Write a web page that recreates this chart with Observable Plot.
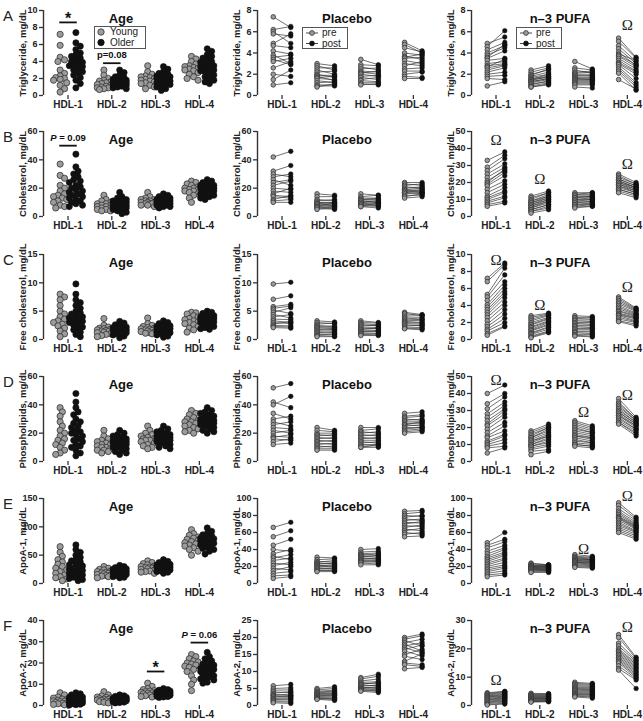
<!DOCTYPE html>
<html><head><meta charset="utf-8">
<script src="https://cdn.jsdelivr.net/npm/d3@7"></script>
<script src="https://cdn.jsdelivr.net/npm/@observablehq/plot@0.6"></script>
<style>
body{margin:0;background:#fff;font-family:"Liberation Sans",Arial,sans-serif;}
#root{position:relative;width:643px;height:721px;overflow:hidden;}
.panel{position:absolute;}
.letter{position:absolute;font-size:15px;color:#222;line-height:1;}
.legend{position:absolute;border:1px solid #555;box-sizing:border-box;background:#fff;}
.legend svg{display:block;overflow:visible;}
</style></head><body><div id="root"></div><script>
// ---------- categories, labels, ticks ----------
const groups = ["HDL-1","HDL-2","HDL-3","HDL-4"];
const rowLetters = ["A","B","C","D","E","F"];
const rowLabels = ["Triglyceride, mg/dL","Cholesterol, mg/dL","Free cholesterol, mg/dL","Phospholipids, mg/dL","ApoA-1, mg/dL","ApoA-2, mg/dL"];
const panelTitles = ["Age","Placebo","n\u20133 PUFA"];
const ageLegend = ["Young","Older"];
const trialLegend = ["pre","post"];
const yMax = [[10,8,8],[60,60,50],[15,15,10],[60,60,50],[150,100,100],[40,25,30]];
const yStep = [[2,2,2],[20,20,10],[5,5,2],[20,20,10],[50,20,20],[10,5,10]];
const sigMarks = [
  {row:0, group:0, y:8.6, text:"*"},
  {row:0, group:1, y:3.8, text:"p=0.08"},
  {row:1, group:0, y:50, text:"P = 0.09"},
  {row:5, group:2, y:16, text:"*"},
  {row:5, group:3, y:29.6, text:"P = 0.06"}
];
const omegaMarks = [
  {row:0, group:3, y:6.6},
  {row:1, group:0, y:45}, {row:1, group:1, y:22}, {row:1, group:3, y:31},
  {row:2, group:0, y:9.3}, {row:2, group:1, y:4.0}, {row:2, group:3, y:6.1},
  {row:3, group:0, y:48}, {row:3, group:2, y:29}, {row:3, group:3, y:39},
  {row:4, group:2, y:40}, {row:4, group:3, y:103},
  {row:5, group:0, y:8.8}, {row:5, group:3, y:27.5}
];

// ---------- A: Triglyceride ----------
const tgYoung = ["7.2 5.9 4.5 4.2 4.0 3.0 2.6 2.3 2.1 2.0 1.9 1.8 1.5 1.2 0.8 0.4",
 "3.0 2.4 2.0 1.8 1.7 1.6 1.5 1.4 1.3 1.2 1.1 1.0 0.9 0.9 0.8 0.7",
 "3.5 2.8 2.5 2.3 2.2 2.1 2.0 1.9 1.8 1.7 1.6 1.5 1.4 1.2 1.0 0.8",
 "4.6 4.3 4.0 3.7 3.5 3.4 3.3 3.2 3.1 3.0 2.9 2.7 2.5 2.2 2.0 1.8"];
const tgOlder = ["7.4 6.2 5.8 5.4 5.0 4.8 4.6 4.4 4.2 4.0 3.9 3.8 3.6 3.5 3.4 3.2 3.0 2.8 2.6 2.4 2.1 1.8 1.4 0.9",
 "3.0 2.7 2.4 2.2 2.1 2.0 1.9 1.8 1.8 1.7 1.7 1.6 1.6 1.5 1.5 1.4 1.4 1.3 1.3 1.2 1.1 1.0 0.9 0.8",
 "3.4 3.1 2.8 2.6 2.5 2.4 2.3 2.2 2.1 2.0 2.0 1.9 1.9 1.8 1.8 1.7 1.6 1.5 1.4 1.3 1.2 1.0 0.8 0.6",
 "5.5 5.2 4.8 4.6 4.4 4.2 4.0 3.9 3.8 3.6 3.5 3.4 3.3 3.2 3.0 2.9 2.8 2.6 2.4 2.2 2.0 1.8 1.6 1.4"];
const tgPlaPre = ["7.4 6.2 6.0 5.8 4.9 4.7 4.2 3.8 3.6 3.4 3.2 2.6 2.0 1.5 1.0",
 "3.0 2.8 2.6 2.4 2.2 2.0 1.9 1.8 1.7 1.6 1.4 1.2 1.0 0.9 0.8",
 "3.4 2.9 2.7 2.5 2.3 2.2 2.1 2.0 1.8 1.7 1.5 1.4 1.2 1.1 1.0",
 "5.0 4.8 4.5 4.0 3.7 3.6 3.5 3.3 3.0 2.8 2.5 2.3 2.0 1.8 1.6"];
const tgPlaPost = ["6.4 6.5 4.9 5.6 5.8 4.5 3.9 3.0 3.8 2.9 3.5 3.2 1.8 2.4 1.2",
 "2.8 2.4 2.6 2.0 2.3 1.7 1.9 1.4 1.8 1.5 1.2 1.3 1.0 0.9 1.1",
 "2.9 2.8 2.4 2.6 2.2 2.0 2.3 1.8 1.9 1.5 1.7 1.3 1.2 1.0 1.1",
 "4.2 4.0 4.1 3.8 3.4 3.9 3.6 3.0 2.8 3.2 2.6 2.3 2.2 1.7 1.6"];
const tgPufaPre = ["4.9 4.6 4.3 4.0 3.8 3.6 3.5 3.3 3.0 2.8 2.7 2.6 2.4 2.2 2.0 1.8 1.6 0.9",
 "2.4 2.2 2.0 1.9 1.8 1.7 1.6 1.5 1.5 1.4 1.3 1.3 1.2 1.1 1.0 0.9 0.8 0.8",
 "3.2 2.6 2.4 2.2 2.1 2.0 1.9 1.8 1.7 1.6 1.6 1.5 1.4 1.3 1.2 1.1 1.0 0.8",
 "5.4 5.1 4.7 4.4 4.1 3.9 3.8 3.7 3.5 3.3 3.1 3.0 2.9 2.7 2.5 2.3 2.1 1.5"];
const tgPufaPost = ["5.5 6.1 5.0 4.7 4.5 4.8 4.2 3.5 3.2 3.0 3.4 2.9 2.8 2.6 2.2 1.9 1.5 1.3",
 "2.8 2.6 2.4 2.5 2.2 2.0 1.8 2.0 1.7 1.8 1.6 1.6 1.5 1.3 1.4 1.2 1.1 1.0",
 "2.5 2.4 2.1 2.3 2.2 2.0 1.8 1.9 1.6 1.7 1.5 1.5 1.4 1.3 1.2 1.1 1.0 0.7",
 "3.6 3.5 3.2 3.0 2.8 3.3 2.9 2.7 2.5 2.3 2.2 2.0 1.6 1.2 1.0 0.8 0.5 0.6"];

// ---------- B: Cholesterol ----------
const chYoung = ["37 29 27 22 20 18 16 15 14 13 12 11 10 8 7 6",
 "15 12 11 10 9 9 8 8 7 7 6 6 5 5 4 4",
 "17 14 13 12 12 11 11 10 10 10 9 9 9 8 8 7",
 "25 24 23 22 21 20 20 19 19 18 18 17 16 15 13 10"];
const chOlder = ["44 35 32 30 28 26 25 24 22 21 20 19 18 17 16 15 14 13 12 11 10 9 8 7",
 "17 14 13 12 11 11 10 10 9 9 9 8 8 8 7 7 7 6 6 5 5 4 3 2",
 "16 15 14 13 13 12 12 12 11 11 11 10 10 10 10 9 9 9 8 8 8 7 7 6",
 "26 25 24 23 22 22 21 21 20 20 19 19 18 18 18 17 17 16 16 15 15 14 13 12"];
const chPlaPre = ["42 32 30 28 26 24 22 20 18 16 15 14 12 11 10",
 "16 14 12 11 10 10 9 9 8 8 7 7 6 6 5",
 "16 14 13 12 12 11 11 10 10 9 9 8 8 7 7",
 "24 23 22 21 20 19 19 18 18 17 17 16 15 14 13"];
const chPlaPost = ["46 36 28 30 22 26 25 19 17 20 14 13 15 12 10",
 "15 14 11 12 10 9 10 8 9 7 8 6 7 5 6",
 "15 15 13 12 13 11 10 11 9 10 8 9 7 8 6",
 "24 22 23 20 21 20 18 19 17 18 16 17 15 16 14"];
const chPufaPre = ["33 29 27 25 23 21 20 19 18 16 14 12 11 10 9 8 7 6",
 "12 11 10 9 9 8 8 7 7 6 6 5 5 4 4 3 3 2",
 "14 13 13 12 12 11 11 10 10 9 9 8 8 7 7 6 6 5",
 "25 24 23 22 22 21 21 20 20 19 19 18 18 17 16 16 15 14"];
const chPufaPost = ["38 36 34 31 29 27 28 26 24 21 19 17 15 14 12 11 9 8",
 "15 14 14 13 12 12 11 11 10 10 9 9 8 7 7 6 5 4",
 "14 14 13 12 12 12 11 11 10 10 9 9 8 8 7 7 6 6",
 "20 19 19 18 18 17 17 17 16 16 15 15 14 14 13 13 12 11"];

// ---------- C: Free cholesterol ----------
const fcYoung = ["8.0 7.5 7.0 6.0 5.0 4.5 4.0 3.6 3.3 3.0 2.7 2.4 2.0 1.5 1.0 0.5",
 "3.7 2.5 2.2 2.0 1.9 1.8 1.7 1.6 1.5 1.4 1.3 1.2 1.0 0.9 0.7 0.5",
 "3.8 2.8 2.5 2.3 2.1 2.0 1.9 1.8 1.7 1.6 1.5 1.4 1.3 1.2 1.1 1.0",
 "4.8 4.7 4.5 4.2 4.0 3.7 3.5 3.3 3.1 3.0 2.8 2.6 2.3 2.0 1.7 1.3"];
const fcOlder = ["9.8 8.0 7.0 6.5 6.0 5.5 5.0 4.7 4.5 4.2 4.0 3.8 3.6 3.4 3.2 3.0 2.8 2.5 2.2 2.0 1.7 1.3 0.9 0.5",
 "3.2 2.9 2.6 2.4 2.2 2.1 2.0 1.9 1.9 1.8 1.8 1.7 1.6 1.6 1.5 1.5 1.4 1.3 1.2 1.1 1.0 0.8 0.6 0.3",
 "3.3 3.0 2.8 2.6 2.4 2.3 2.2 2.1 2.0 2.0 1.9 1.9 1.8 1.7 1.6 1.5 1.4 1.3 1.2 1.1 1.0 0.8 0.6 0.4",
 "5.0 4.8 4.6 4.4 4.2 4.0 3.9 3.8 3.7 3.6 3.5 3.4 3.3 3.2 3.1 3.0 2.9 2.8 2.6 2.5 2.3 2.1 1.9 1.8"];
const fcPlaPre = ["9.8 7.1 5.8 5.5 5.2 4.8 4.4 4.0 3.6 3.3 3.0 2.7 2.5 2.3 2.1",
 "3.3 3.0 2.7 2.5 2.3 2.1 2.0 1.8 1.6 1.4 1.2 1.0 0.8 0.7 0.5",
 "3.3 3.0 2.8 2.6 2.4 2.2 2.0 1.8 1.7 1.5 1.4 1.2 1.0 0.9 0.7",
 "4.8 4.6 4.3 4.0 3.8 3.6 3.4 3.2 3.0 2.8 2.6 2.4 2.2 2.0 1.9"];
const fcPlaPost = ["10.1 7.7 6.2 5.9 4.6 5.6 3.8 4.4 3.5 3.0 2.8 3.2 2.4 2.2 2.0",
 "3.1 2.8 2.9 2.2 2.4 1.9 2.1 1.6 1.8 1.2 1.4 0.9 1.0 0.6 0.5",
 "3.0 2.9 2.6 2.4 2.5 2.1 1.9 2.0 1.6 1.4 1.5 1.1 1.0 0.8 0.7",
 "4.4 4.2 4.3 3.9 3.6 3.5 3.3 3.0 2.9 2.7 2.4 2.5 2.1 1.9 1.7"];
const fcPufaPre = ["7.2 6.8 5.3 5.0 4.6 4.1 3.8 3.5 3.2 2.9 2.6 2.2 1.8 1.5 1.2 1.0 0.7 0.5",
 "2.8 2.6 2.4 2.2 2.0 1.8 1.7 1.5 1.4 1.2 1.1 1.0 0.8 0.7 0.6 0.4 0.3 0.2",
 "2.8 2.6 2.5 2.3 2.2 2.0 1.9 1.7 1.6 1.5 1.3 1.2 1.0 0.9 0.8 0.6 0.5 0.4",
 "5.0 4.8 4.6 4.4 4.2 4.0 3.8 3.6 3.4 3.3 3.1 3.0 2.9 2.8 2.6 2.4 2.2 2.1"];
const fcPufaPost = ["9.0 8.8 8.4 7.6 6.8 6.4 6.0 5.6 5.3 4.9 4.4 4.0 3.5 3.0 2.5 2.0 1.6 1.5",
 "3.1 3.0 2.9 2.8 2.6 2.5 2.4 2.2 2.1 2.0 1.8 1.7 1.5 1.4 1.2 1.0 0.9 0.8",
 "2.7 2.6 2.4 2.3 2.1 2.0 1.8 1.7 1.6 1.4 1.3 1.2 1.0 0.9 0.7 0.6 0.4 0.3",
 "3.7 3.6 3.5 3.4 3.3 3.1 3.0 2.9 2.8 2.7 2.6 2.5 2.4 2.2 2.1 2.0 1.8 1.6"];

// ---------- D: Phospholipids ----------
const plYoung = ["38 35 32 28 25 22 20 18 16 15 13 12 10 8 6 5",
 "22 18 16 15 14 13 12 12 11 10 10 9 8 8 7 6",
 "25 22 20 19 18 17 16 16 15 15 14 13 12 11 10 9",
 "36 34 33 31 30 29 28 28 27 26 25 24 23 22 21 20"];
const plOlder = ["48 42 38 35 33 30 28 27 25 24 22 21 20 19 18 16 15 14 12 11 10 8 6 4",
 "22 20 19 18 17 16 16 15 15 14 14 14 13 13 12 12 11 10 10 9 8 7 6 5",
 "25 23 22 21 20 19 19 18 18 17 17 17 16 16 16 15 15 14 14 13 12 11 10 9",
 "38 36 35 34 33 32 31 30 30 29 29 29 28 28 27 27 26 26 25 24 23 22 21 20"];
const plPlaPre = ["52 42 40 34 30 28 26 24 22 20 18 17 16 14 12",
 "24 22 20 19 18 17 16 15 14 13 12 11 10 9 8",
 "24 22 21 20 19 18 17 16 15 14 13 12 11 10 10",
 "34 32 31 30 29 28 27 26 26 25 24 23 22 21 20"];
const plPlaPost = ["55 38 46 30 32 25 28 23 20 22 17 19 15 16 13",
 "22 21 20 18 19 16 17 14 15 12 13 10 11 9 8",
 "24 23 20 21 18 19 16 17 15 13 14 12 11 12 10",
 "35 33 32 29 30 28 27 28 25 26 24 24 23 22 21"];
const plPufaPre = ["40 34 31 28 26 24 22 21 19 17 15 14 12 11 10 9 8 5",
 "18 17 16 15 14 14 13 12 12 11 10 10 9 9 8 7 6 4",
 "24 23 22 21 20 19 18 17 16 15 15 14 13 12 11 10 10 9",
 "37 35 34 33 32 31 30 29 29 28 27 27 26 25 24 23 23 22"];
const plPufaPost = ["45 40 38 35 33 31 30 28 26 23 21 18 16 15 13 11 9 8",
 "22 21 20 20 19 18 17 16 15 15 14 13 12 11 10 9 7 6",
 "21 20 19 18 17 17 16 15 14 14 13 12 11 11 10 9 9 8",
 "26 25 25 24 24 23 23 22 22 21 21 20 19 19 18 17 16 15"];

// ---------- E: ApoA-1 ----------
const a1Young = ["65 55 48 42 38 34 30 27 24 21 18 15 12 10 8 5",
 "30 27 25 24 22 21 20 19 18 17 16 15 14 13 12 10",
 "40 37 35 33 31 30 29 28 27 26 25 24 22 21 20 18",
 "95 88 85 82 80 78 76 74 72 70 68 66 63 60 57 50"];
const a1Older = ["68 60 55 50 46 42 40 38 35 33 31 29 27 25 23 21 19 17 15 13 11 9 7 5",
 "32 30 28 27 26 25 24 23 22 22 21 21 20 20 19 19 18 17 16 15 14 12 11 10",
 "42 39 37 35 34 33 32 31 30 30 29 29 28 28 27 27 26 25 24 23 22 21 20 18",
 "98 92 88 86 84 82 80 79 78 76 75 74 73 72 71 70 69 68 66 64 62 60 57 52"];
const a1PlaPre = ["66 55 45 40 35 32 30 27 24 21 18 15 12 9 6",
 "31 28 26 25 24 23 22 21 20 19 18 17 16 15 14",
 "40 37 35 34 33 32 31 30 29 28 27 26 25 24 22",
 "85 82 80 78 76 74 72 70 68 66 64 62 60 58 55"];
const a1PlaPost = ["72 62 52 38 40 28 34 30 22 25 16 20 14 10 8",
 "30 29 25 27 23 24 20 22 19 21 17 18 15 16 14",
 "41 38 36 33 35 31 33 29 30 27 28 25 26 23 22",
 "86 84 79 80 74 76 71 73 67 69 62 65 58 60 56"];
const a1PufaPre = ["48 45 42 38 35 32 30 28 26 24 22 20 18 16 14 12 10 8",
 "24 23 22 21 21 20 20 19 19 18 18 17 17 16 16 15 14 13",
 "34 32 31 30 29 29 28 27 27 26 25 25 24 23 22 21 20 19",
 "95 92 88 85 83 81 79 78 77 76 74 72 70 68 66 64 62 60"];
const a1PufaPost = ["60 52 49 45 42 40 37 35 33 30 28 25 22 20 18 15 12 10",
 "22 22 21 21 20 20 19 19 18 18 17 17 16 16 15 15 14 13",
 "32 31 30 29 28 28 27 26 26 25 24 24 23 22 21 20 19 18",
 "78 76 74 72 70 69 68 67 66 65 64 62 61 60 58 56 54 52"];

// ---------- F: ApoA-2 ----------
const a2Young = ["6.0 5.0 4.0 3.5 3.0 2.8 2.5 2.2 2.0 1.8 1.5 1.2 1.0 0.8 0.5 0.3",
 "6.5 5.0 4.5 4.0 3.8 3.5 3.2 3.0 2.8 2.6 2.4 2.2 2.0 1.8 1.5 1.2",
 "10.5 9.0 8.0 7.5 7.0 6.8 6.5 6.2 6.0 5.8 5.5 5.2 5.0 4.6 4.2 4.0",
 "24 23 22 21 20.5 20 19.5 19 18.5 18 17 16 14 12 10 7"];
const a2Older = ["6.0 5.5 5.0 4.5 4.0 3.8 3.5 3.2 3.0 2.8 2.6 2.5 2.4 2.2 2.0 1.8 1.6 1.4 1.2 1.0 0.8 0.6 0.4 0.2",
 "5.0 4.6 4.3 4.0 3.8 3.6 3.4 3.2 3.1 3.0 3.0 2.9 2.8 2.7 2.6 2.5 2.4 2.3 2.2 2.0 1.8 1.6 1.4 1.2",
 "8.0 7.5 7.2 7.0 6.8 6.6 6.4 6.2 6.0 6.0 5.9 5.8 5.7 5.6 5.5 5.4 5.2 5.0 4.8 4.6 4.4 4.2 4.0 3.8",
 "25 23 22 21 20 19.5 19 18.5 18 17.5 17 16.8 16.5 16 15.5 15 14.5 14 13.5 13 12.5 12 11 10.5"];
const a2PlaPre = ["5.8 5.0 4.5 4.0 3.6 3.2 3.0 2.8 2.5 2.2 2.0 1.7 1.4 1.1 0.8",
 "5.0 4.6 4.2 4.0 3.8 3.5 3.3 3.1 2.9 2.7 2.5 2.3 2.1 2.0 1.8",
 "8.2 7.8 7.2 6.8 6.5 6.2 6.0 5.7 5.4 5.2 5.0 4.8 4.6 4.4 4.2",
 "20 19.5 19 18.5 18 17.5 17 16.5 16 15 14.5 13 12.5 12 10.8"];
const a2PlaPost = ["6.2 5.2 4.6 3.8 4.1 3.0 3.4 2.6 2.9 2.3 1.8 2.0 1.3 1.0 0.6",
 "5.5 5.0 4.5 4.2 3.9 3.6 3.4 3.2 3.0 2.8 2.5 2.2 2.0 1.8 1.5",
 "9.2 8.6 7.8 7.0 6.4 6.8 5.8 6.0 5.2 5.5 4.6 5.0 4.3 4.2 3.8",
 "21 20.5 17.5 19.5 16 18.5 15.5 17.8 14.6 16.5 13.5 15.2 12 11.5 11.2"];
const a2PufaPre = ["4.5 4.2 4.0 3.7 3.4 3.2 3.0 2.8 2.5 2.2 2.0 1.8 1.5 1.2 1.0 0.7 0.4 0.2",
 "4.3 4.0 3.8 3.6 3.4 3.2 3.0 2.8 2.6 2.4 2.3 2.2 2.0 1.8 1.6 1.5 1.4 1.2",
 "8.2 7.8 7.4 7.0 6.6 6.3 6.0 5.7 5.4 5.1 4.8 4.5 4.2 4.0 3.8 3.5 3.3 3.0",
 "25 24 22 21 20 19.5 19 18.5 18 17.5 17 16.5 16 15.5 15 14 13 12.5"];
const a2PufaPost = ["5.0 4.9 4.6 4.3 4.0 3.8 3.5 3.3 3.0 2.8 2.6 2.3 2.0 1.8 1.5 1.2 0.8 0.5",
 "4.2 4.0 3.8 3.6 3.4 3.2 3.0 2.9 2.7 2.5 2.4 2.3 2.1 1.9 1.7 1.6 1.5 1.3",
 "7.8 7.5 7.2 6.8 6.5 6.2 5.9 5.6 5.3 5.0 4.7 4.4 4.1 3.9 3.6 3.3 3.0 2.6",
 "17 16.5 16 15.5 15 14.5 14 13.5 13 12.5 12 11.5 11 10.5 10 9.5 9 6"];

const rows = [
  [tgYoung, tgOlder, tgPlaPre, tgPlaPost, tgPufaPre, tgPufaPost],
  [chYoung, chOlder, chPlaPre, chPlaPost, chPufaPre, chPufaPost],
  [fcYoung, fcOlder, fcPlaPre, fcPlaPost, fcPufaPre, fcPufaPost],
  [plYoung, plOlder, plPlaPre, plPlaPost, plPufaPre, plPufaPost],
  [a1Young, a1Older, a1PlaPre, a1PlaPost, a1PufaPre, a1PufaPost],
  [a2Young, a2Older, a2PlaPre, a2PlaPost, a2PufaPre, a2PufaPost]
];

// ---------- layout ----------
const W = 215, H = 122, ML = 43, MR = 3, MT = 10, MB = 27;
const XD = [-0.56, 3.3];
const PXU = (W - ML - MR) / (XD[1] - XD[0]);
const PH = H - MT - MB;
const colLeft = [0, 214, 428];
const rowTop = [0, 121, 244, 366, 488, 610];
const titleDx = [-7, 5, 4];
const GREY = "#9b9b9b", DARK = "#111", AX = "#333";
const parse = s => s.trim().split(/\s+/).map(Number);

function swarm(vals, center, ymax) {
  const pts = vals.map(v => ({v, py: v / ymax * PH}));
  const order = pts.slice().sort((a, b) => b.py - a.py);
  const cands = [0];
  for (let k = 1; k <= 3; k++) cands.push(k * 2.2, -k * 2.2);
  const placed = [];
  for (const p of order) {
    let best = 0, bestD = -1;
    for (const off of cands) {
      let md = Infinity;
      for (const q of placed) { const d = Math.hypot(q.off - off, q.py - p.py); if (d < md) md = d; }
      if (md >= 4.4) { best = off; break; }
      if (md > bestD) { bestD = md; best = off; }
    }
    p.off = best; placed.push(p);
  }
  return pts.map(p => ({x: center + p.off / PXU, y: p.v}));
}

const root = document.getElementById("root");

rows.forEach((R, r) => {
  for (let c = 0; c < 3; c++) {
    const ymax = yMax[r][c], step = yStep[r][c];
    const ticks = d3.range(0, ymax + step / 2, step);
    const marks = [
      Plot.axisY({ticks, tickSize: 4, tickPadding: 2, fontSize: 9, fontWeight: "bold", stroke: AX, strokeWidth: 1.3, label: null}),
      Plot.axisX({ticks: [0, 1, 2, 3], tickFormat: i => groups[i], tickSize: 4, tickPadding: 1, fontSize: 10, fontWeight: "bold", stroke: AX, strokeWidth: 1.3, label: null}),
      Plot.ruleX([XD[0]], {stroke: AX, strokeWidth: 1.4}),
      Plot.text([panelTitles[c]], {text: d => d, frameAnchor: "top", dx: titleDx[c], dy: 3, fontSize: 13, fontWeight: "bold", fill: "#111"}),
      Plot.text([rowLabels[r]], {text: d => d, frameAnchor: "left", textAnchor: "middle", rotate: -90, dx: -21, fontSize: 9.5, fontWeight: "bold", fill: "#222"})
    ];
    if (c === 0) {
      const young = [], older = [];
      for (let g = 0; g < 4; g++) {
        young.push(...swarm(parse(R[0][g]), g - 0.18, ymax));
        older.push(...swarm(parse(R[1][g]), g + 0.18, ymax));
      }
      marks.push(Plot.dot(young, {x: "x", y: "y", r: 3.1, fill: GREY, stroke: "#333", strokeWidth: 0.8}));
      marks.push(Plot.dot(older, {x: "x", y: "y", r: 3.1, fill: DARK, stroke: DARK, strokeWidth: 0.6}));
      const sig = sigMarks.filter(d => d.row === r);
      marks.push(Plot.link(sig, {x1: d => d.group - 0.2, x2: d => d.group + 0.2, y1: "y", y2: "y", stroke: DARK, strokeWidth: 1.8}));
      marks.push(Plot.text(sig.filter(d => d.text === "*"), {x: "group", y: "y", text: "text", dy: -4, fontSize: 16, fontWeight: "bold", fill: DARK}));
      marks.push(Plot.text(sig.filter(d => d.text !== "*"), {x: "group", y: "y", text: "text", dy: -8, fontSize: 9.5, fontWeight: "bold", fill: DARK}));
    } else {
      const pre = R[c === 1 ? 2 : 4], post = R[c === 1 ? 3 : 5];
      const pairs = [];
      for (let g = 0; g < 4; g++) {
        const a = parse(pre[g]), b = parse(post[g]);
        a.forEach((v, i) => pairs.push({x1: g - 0.2, y1: v, x2: g + 0.2, y2: b[i]}));
      }
      marks.push(Plot.link(pairs, {x1: "x1", y1: "y1", x2: "x2", y2: "y2", stroke: "#333", strokeWidth: 0.7}));
      marks.push(Plot.dot(pairs, {x: "x1", y: "y1", r: 2.3, fill: GREY, stroke: "#333", strokeWidth: 0.8}));
      marks.push(Plot.dot(pairs, {x: "x2", y: "y2", r: 2.3, fill: DARK, stroke: DARK, strokeWidth: 0.5}));
      if (c === 2) {
        const om = omegaMarks.filter(d => d.row === r);
        marks.push(Plot.text(om, {x: "group", y: "y", text: () => "\u03A9", fontFamily: "Liberation Serif, DejaVu Serif, serif", fontSize: 15, fill: "#222"}));
      }
    }
    const chart = Plot.plot({
      width: W, height: H, marginLeft: ML, marginRight: MR, marginTop: MT, marginBottom: MB,
      x: {domain: XD},
      y: {domain: [0, ymax]},
      style: {fontFamily: "'Liberation Sans', Arial, sans-serif", color: "#222", background: "none", overflow: "visible"},
      marks
    });
    chart.querySelectorAll("text").forEach(t => {
      const s = t.textContent;
      if (s.startsWith("P = ")) {
        t.textContent = "";
        const ns = "http://www.w3.org/2000/svg";
        const a = document.createElementNS(ns, "tspan"); a.setAttribute("font-style", "italic"); a.textContent = "P";
        const b = document.createElementNS(ns, "tspan"); b.textContent = s.slice(1);
        t.appendChild(a); t.appendChild(b);
      }
    });
    const div = document.createElement("div");
    div.className = "panel";
    div.style.left = colLeft[c] + "px";
    div.style.top = rowTop[r] + "px";
    div.appendChild(chart);
    root.appendChild(div);
  }
  const L = document.createElement("div");
  L.className = "letter";
  L.style.left = "3px"; L.style.top = (rowTop[r] + 8) + "px";
  L.textContent = rowLetters[r];
  root.appendChild(L);
});

// ---------- legends ----------
function legend(left, top, w, h, labels, withLine) {
  const d = document.createElement("div");
  d.className = "legend";
  d.style.left = left + "px"; d.style.top = top + "px";
  d.style.width = w + "px"; d.style.height = h + "px";
  const ns = "http://www.w3.org/2000/svg";
  const svg = document.createElementNS(ns, "svg");
  svg.setAttribute("width", w - 2); svg.setAttribute("height", h - 2);
  labels.forEach((lab, i) => {
    const cy = 5 + i * 10.5;
    const fill = i === 0 ? GREY : DARK;
    if (withLine) {
      const ln = document.createElementNS(ns, "line");
      ln.setAttribute("x1", 3); ln.setAttribute("x2", 15); ln.setAttribute("y1", cy); ln.setAttribute("y2", cy);
      ln.setAttribute("stroke", "#333"); ln.setAttribute("stroke-width", 0.9);
      svg.appendChild(ln);
    }
    const ci = document.createElementNS(ns, "circle");
    ci.setAttribute("cx", withLine ? 9 : 6); ci.setAttribute("cy", cy); ci.setAttribute("r", withLine ? 2.4 : 3.2);
    ci.setAttribute("fill", fill); ci.setAttribute("stroke", i === 0 ? "#333" : DARK); ci.setAttribute("stroke-width", 0.8);
    svg.appendChild(ci);
    const tx = document.createElementNS(ns, "text");
    tx.setAttribute("x", withLine ? 19 : 15); tx.setAttribute("y", cy + 3.4);
    tx.setAttribute("font-size", 10); tx.setAttribute("fill", "#222");
    tx.setAttribute("font-family", "Liberation Sans, Arial, sans-serif");
    tx.textContent = lab;
    svg.appendChild(tx);
  });
  d.appendChild(svg);
  root.appendChild(d);
}
legend(94, 26, 52, 23, ageLegend, false);
legend(colLeft[1] + 88, 27, 46, 22, trialLegend, true);
legend(colLeft[2] + 88, 27, 46, 22, trialLegend, true);
</script></body></html>
